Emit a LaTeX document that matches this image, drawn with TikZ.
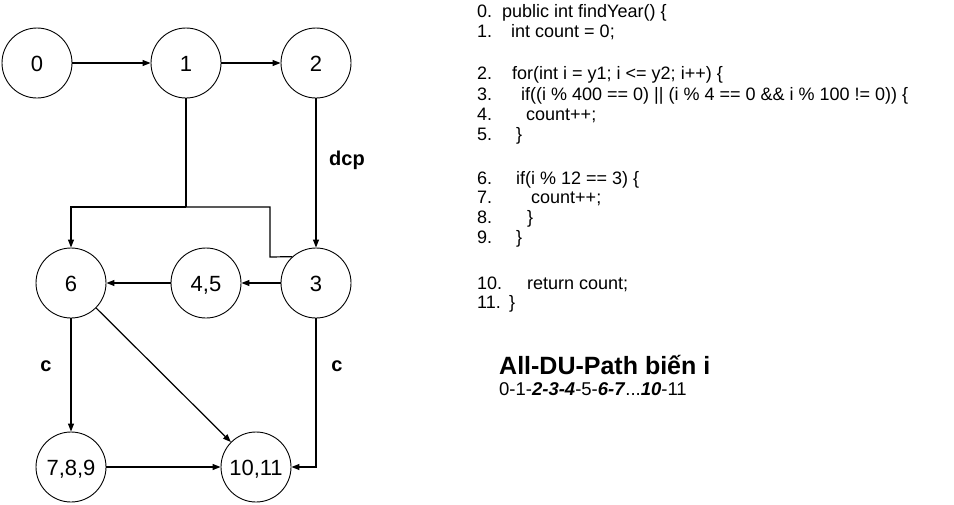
\documentclass[tikz,border=0pt]{standalone}
\usepackage{fontspec}
\setmainfont{Liberation Sans}
\usetikzlibrary{arrows.meta}
\begin{document}
\begin{tikzpicture}[x=1pt,y=-1pt,
  vtx/.style={draw,circle,minimum size=70pt,inner sep=0pt,line width=0.9pt,font=\fontsize{22}{24}\selectfont,text height=16pt,text depth=0pt},
  edge/.style={line width=1.2pt,-{Triangle[length=8pt,width=6pt]}},
  plain/.style={line width=1.2pt},
  lbl/.style={font=\fontsize{20}{22}\selectfont\bfseries,inner sep=0pt},
  code/.style={anchor=base west,inner sep=0pt,font=\fontsize{18}{20}\selectfont},
  ]
\useasboundingbox (0,0) rectangle (954,504);
\node[vtx] (n0) at (37,63) {0};
\node[vtx] (n1) at (186,63) {1};
\node[vtx] (n2) at (316,63) {2};
\node[vtx] (n6) at (71,283) {6};
\node[vtx] (n45) at (206,283) {4,5};
\node[vtx] (n3) at (316,283) {3};
\node[vtx] (n789) at (71,467) {7,8,9};
\node[vtx] (n1011) at (256,467) {10,11};
\coordinate (j) at (186,207);
\coordinate (jl) at (71,207);
\coordinate (jr) at (270,207);
\coordinate (jr2) at (270,257);
\draw[edge] (n0) -- (n1);
\draw[edge] (n1) -- (n2);
\draw[edge] (n2) -- (n3);
\node[lbl] (ldcp) at (347,160) {dcp};
\draw[plain] (n1) -- (j);
\draw[edge] (j) -- (jl) -- (n6);
\draw[plain] (j) -- (jr) -- (jr2) -- (n3.132);
\draw[edge] (n3) -- (n45);
\draw[edge] (n45) -- (n6);
\draw[edge] (n6) -- (n789);
\node[lbl] (lc1) at (46,366) {c};
\draw[edge] (n6) -- (n1011);
\draw[edge] (n789) -- (n1011);
\draw[edge] (n3) -- (n3 |- n1011) -- (n1011);
\node[lbl] (lc2) at (337,366) {c};
% code
\node[code] (c0n) at (477,17) {0.};
\node[code] (c0) at (502,17) {public int findYear() \{};
\node[code] (c1n) at (477,37) {1.};
\node[code] (c1) at (511,37) {int count = 0;};
\node[code] (c2n) at (477,79) {2.};
\node[code] (c2) at (512,79) {for(int i = y1; i <= y2; i++) \{};
\node[code] (c3n) at (477,100) {3.};
\node[code] (c3) at (521,100) {if((i \% 400 == 0) || (i \% 4 == 0 \&\& i \% 100 != 0)) \{};
\node[code] (c4n) at (477,120) {4.};
\node[code] (c4) at (526,120) {count++;};
\node[code] (c5n) at (477,140) {5.};
\node[code] (c5) at (516,140) {\}};
\node[code] (c6n) at (477,184) {6.};
\node[code] (c6) at (516,184) {if(i \% 12 == 3) \{};
\node[code] (c7n) at (477,203) {7.};
\node[code] (c7) at (531,203) {count++;};
\node[code] (c8n) at (477,223) {8.};
\node[code] (c8) at (527,223) {\}};
\node[code] (c9n) at (477,243) {9.};
\node[code] (c9) at (516,243) {\}};
\node[code] (c10n) at (477,289) {10.};
\node[code] (c10) at (527,289) {return count;};
\node[code] (c11n) at (477,308) {11.};
\node[code] (c11) at (509,308) {\}};
\node[code,font=\fontsize{25}{28}\selectfont\bfseries] (hd) at (499,374) {All-DU-Path biến i};
\node[code,font=\fontsize{18.5}{20}\selectfont] (pth) at (499,395) {0-1-\textbf{\textit{2-3-4}}-5-\textbf{\textit{6-7}}...\textbf{\textit{10}}-11};
\end{tikzpicture}
\end{document}
